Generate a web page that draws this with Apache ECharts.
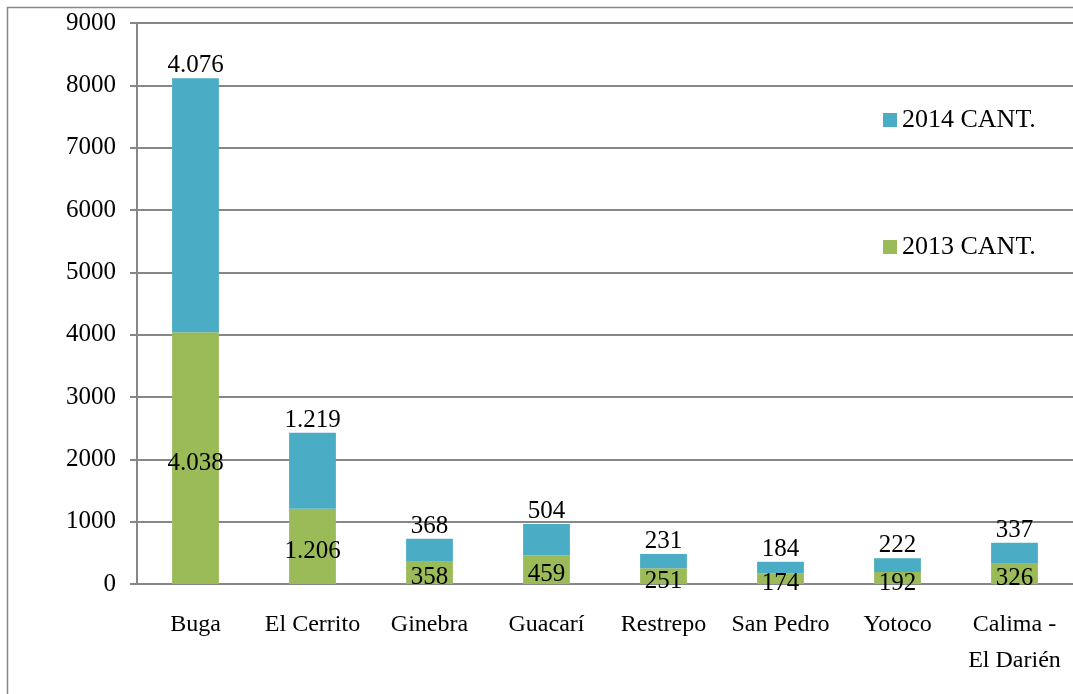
<!DOCTYPE html>
<html>
<head>
<meta charset="utf-8">
<script src="https://cdn.jsdelivr.net/npm/echarts@6/dist/echarts.min.js"></script>
<style>
  html, body { margin: 0; padding: 0; background: #fff; }
  #chart { width: 1073px; height: 694px; }
</style>
</head>
<body>
<div id="chart"></div>
<script>
const categories = ['Buga', 'El Cerrito', 'Ginebra', 'Guacarí', 'Restrepo', 'San Pedro', 'Yotoco', 'Calima -\nEl Darién']
const values2013 = [4038, 1206, 358, 459, 251, 174, 192, 326]
const values2014 = [4076, 1219, 368, 504, 231, 184, 222, 337]
const yTicks = { min: 0, max: 9000, interval: 1000 }

const chart = echarts.init(document.getElementById('chart'))
const font = 'Liberation Serif'
const gray = '#878787'

// 4038 -> 4.038 (separador de miles con punto)
const fmt = p => String(p.value).replace(/\B(?=(\d{3})+(?!\d))/g, '.')

const option = {
  backgroundColor: '#fff',
  textStyle: { fontFamily: font, color: '#000' },
  graphic: [{
    type: 'rect',
    shape: { x: 7.5, y: 7.5, width: 1100, height: 720 },
    style: { fill: 'none', stroke: gray, lineWidth: 1.5 },
    silent: true
  }],
  grid: { left: 137, right: -4, top: 23, bottom: 110 },
  legend: {
    data: ['2014 CANT.', '2013 CANT.'],
    orient: 'vertical',
    left: 878,
    top: 102,
    itemWidth: 14,
    itemHeight: 14,
    itemGap: 101,
    icon: 'rect',
    textStyle: { fontFamily: font, fontSize: 26, color: '#000' }
  },
  xAxis: {
    type: 'category',
    data: categories,
    axisLine: { lineStyle: { color: gray, width: 2 } },
    axisTick: { length: 9, lineStyle: { color: gray, width: 2 } },
    axisLabel: { interval: 0, margin: 23, fontFamily: font, fontSize: 24, color: '#000', lineHeight: 36 }
  },
  yAxis: {
    type: 'value',
    min: yTicks.min,
    max: yTicks.max,
    interval: yTicks.interval,
    axisLine: { show: true, lineStyle: { color: gray, width: 2 } },
    axisTick: { show: true, length: 7, lineStyle: { color: gray, width: 2 } },
    splitLine: { lineStyle: { color: gray, width: 2 } },
    axisLabel: { margin: 21, fontFamily: font, fontSize: 25, color: '#000', formatter: v => String(v) }
  },
  series: [
    {
      name: '2013 CANT.',
      type: 'bar',
      stack: 'total',
      barWidth: '40%',
      data: values2013,
      itemStyle: { color: '#9BBB59' },
      label: { show: true, position: 'inside', offset: [0, 5], formatter: fmt, fontFamily: font, fontSize: 25, color: '#000' }
    },
    {
      name: '2014 CANT.',
      type: 'bar',
      stack: 'total',
      barWidth: '40%',
      data: values2014,
      itemStyle: { color: '#4BACC6' },
      label: { show: true, position: 'top', distance: 0, formatter: fmt, fontFamily: font, fontSize: 25, color: '#000' }
    }
  ]
}
chart.setOption(option)
</script>
</body>
</html>
